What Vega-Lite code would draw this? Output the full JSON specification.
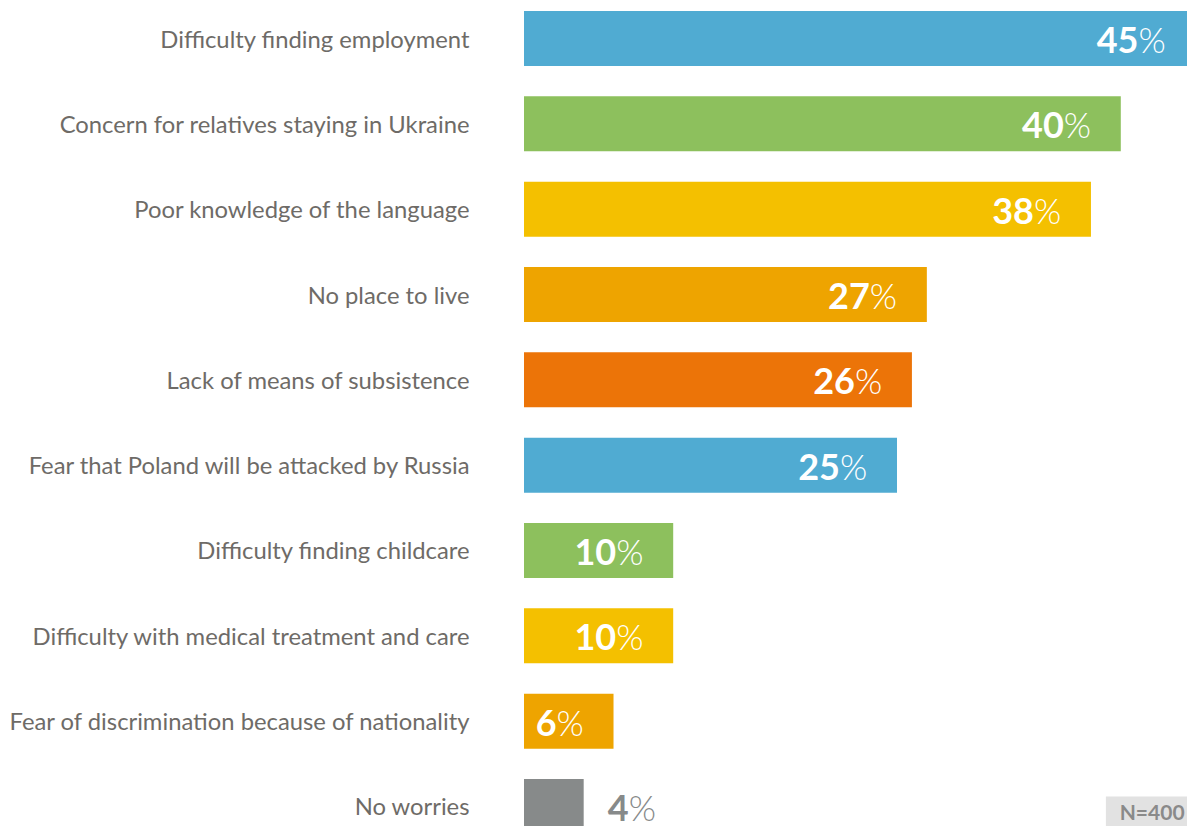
{
  "$schema": "https://vega.github.io/schema/vega-lite/v6.json",
  "width": 663,
  "height": 826,
  "autosize": {"type": "none"},
  "padding": {"left": 524, "top": 0, "right": 0, "bottom": 0},
  "background": "white",
  "config": {"view": {"stroke": null}, "font": "Lato"},
  "datasets": {
    "worries": [
      {"reason": "Difficulty finding employment", "value": 45},
      {"reason": "Concern for relatives staying in Ukraine", "value": 40},
      {"reason": "Poor knowledge of the language", "value": 38},
      {"reason": "No place to live", "value": 27},
      {"reason": "Lack of means of subsistence", "value": 26},
      {"reason": "Fear that Poland will be attacked by Russia", "value": 25},
      {"reason": "Difficulty finding childcare", "value": 10},
      {"reason": "Difficulty with medical treatment and care", "value": 10},
      {"reason": "Fear of discrimination because of nationality", "value": 6},
      {"reason": "No worries", "value": 4}
    ]
  },
  "data": {"name": "worries"},
  "encoding": {
    "y": {
      "field": "reason",
      "type": "nominal",
      "sort": null,
      "scale": {"range": [0, 845], "paddingInner": 0.355, "paddingOuter": 0.129},
      "axis": {
        "title": null,
        "ticks": false,
        "domain": false,
        "labelFontSize": 23.8,
        "labelColor": "#6e6b67",
        "labelPadding": 55,
        "labelLimit": 700,
        "labelOffset": 2,
        "labelFont": "Lato"
      }
    },
    "x": {
      "field": "value",
      "type": "quantitative",
      "scale": {"domain": [0, 45], "range": [0, 671.4], "nice": false},
      "axis": null
    }
  },
  "layer": [
    {
      "mark": {"type": "bar"},
      "encoding": {
        "color": {
          "field": "reason",
          "type": "nominal",
          "legend": null,
          "scale": {
            "domain": [
              "Difficulty finding employment",
              "Concern for relatives staying in Ukraine",
              "Poor knowledge of the language",
              "No place to live",
              "Lack of means of subsistence",
              "Fear that Poland will be attacked by Russia",
              "Difficulty finding childcare",
              "Difficulty with medical treatment and care",
              "Fear of discrimination because of nationality",
              "No worries"
            ],
            "range": ["#50abd2", "#8dc05d", "#f4c000", "#eea400", "#ec7408", "#50abd2", "#8dc05d", "#f4c000", "#eea400", "#878a8a"]
          }
        }
      }
    },
    {
      "transform": [{"filter": "datum.value > 5"}],
      "mark": {"type": "text", "align": "right", "baseline": "alphabetic", "dx": -57, "dy": 14.5, "fontSize": 36, "fontWeight": "bold", "color": "white", "font": "Lato"},
      "encoding": {"text": {"field": "value", "type": "quantitative"}}
    },
    {
      "transform": [{"filter": "datum.value > 5"}],
      "mark": {"type": "text", "align": "left", "baseline": "alphabetic", "dx": -57, "dy": 14.5, "fontSize": 35, "fontWeight": 300, "color": "white", "font": "Lato"},
      "encoding": {"text": {"value": "%"}}
    },
    {
      "transform": [{"filter": "datum.value <= 5"}],
      "mark": {"type": "text", "align": "right", "baseline": "alphabetic", "dx": 45, "dy": 15, "fontSize": 36, "fontWeight": "bold", "color": "#878a8a", "font": "Lato"},
      "encoding": {"text": {"field": "value", "type": "quantitative"}}
    },
    {
      "transform": [{"filter": "datum.value <= 5"}],
      "mark": {"type": "text", "align": "left", "baseline": "alphabetic", "dx": 45, "dy": 15, "fontSize": 35, "fontWeight": 300, "color": "#878a8a", "font": "Lato"},
      "encoding": {"text": {"value": "%"}}
    },
    {
      "transform": [{"filter": "datum.reason == 'No worries'"}],
      "mark": {"type": "rect", "color": "#e2e2e2", "yOffset": 17.5},
      "encoding": {
        "x": {"datum": 39},
        "x2": {"datum": 45}
      }
    },
    {
      "transform": [{"filter": "datum.reason == 'No worries'"}],
      "mark": {"type": "text", "align": "center", "baseline": "middle", "fontSize": 21, "color": "#8a8a8a", "font": "Lato", "fontWeight": "bold", "dy": 8},
      "encoding": {
        "x": {"datum": 42.1},
        "text": {"value": "N=400"}
      }
    }
  ]
}
